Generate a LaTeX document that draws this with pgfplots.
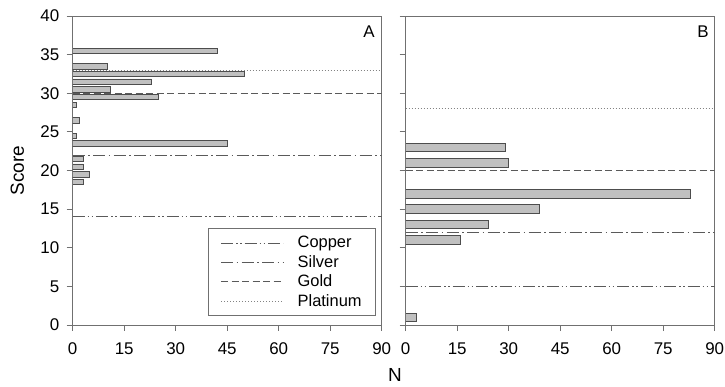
\documentclass[border=0pt]{standalone}
\usepackage{pgfplots}
\pgfplotsset{compat=1.18}
\usepackage{pgfplotstable}
\usepackage{fontspec}
\setmainfont{Liberation Sans}
\definecolor{barfill}{HTML}{C0C0C0}
\definecolor{baredge}{HTML}{4D4D4D}
\definecolor{axgray}{HTML}{707070}
\definecolor{lngray}{HTML}{5A5A5A}

\pgfplotstableread{
score n
35.5 42
33.5 10
32.5 50
31.5 23
30.5 11
29.5 25
28.5 1
26.5 2
24.5 1
23.5 45
21.5 3
20.5 3
19.5 5
18.5 3
}\dataA
\pgfplotstableread{
score n
23 29
21 30
17 83
15 39
13 24
11 16
1 3
}\dataB

\pgfplotsset{
  panel/.style={
    width=309bp, height=309bp, scale only axis,
    xmin=0, xmax=90, ymin=0, ymax=40,
    xtick={0,15,...,90}, ytick={0,5,...,40},
    tick align=outside, xtick pos=bottom, ytick pos=left,
    major tick length=6bp,
    axis line style={axgray, line width=0.8bp},
    every tick/.style={axgray, line width=0.8bp},
    tick label style={font=\fontsize{17}{20}\selectfont, text=black},
    yticklabel style={xshift=-4bp},
    xticklabel style={yshift=-8bp},
    /pgf/number format/assume math mode=true,
    label style={font=\fontsize{19}{22}\selectfont},
    legend image code/.code={\draw[##1] (0bp,0bp) -- (62bp,0bp);},
  },
  copper/.style={lngray, line width=0.9bp, dash pattern=on 12bp off 3bp on 1.5bp off 2.5bp on 1.5bp off 3bp},
  silver/.style={lngray, line width=0.9bp, dash pattern=on 12bp off 3.5bp on 1.5bp off 3.5bp},
  gold/.style={lngray, line width=0.9bp, dash pattern=on 7bp off 3.5bp},
  platinum/.style={lngray!75, line width=0.8bp, dash pattern=on 1bp off 2bp},
  bars/.style={xbar, bar shift=0pt, fill=barfill, draw=baredge, line width=0.8bp},
}

\begin{document}
\begin{tikzpicture}
\useasboundingbox (-72.7bp,-62bp) rectangle (652.3bp,325bp);
\begin{axis}[panel, at={(0,0)}, anchor=origin,
  ylabel={Score}, xlabel={N},
  ylabel style={at={(axis description cs:-0.179,0.5)}, anchor=center},
  xlabel style={at={(axis description cs:1.043,-0.1618)}, anchor=center, inner sep=0pt},
  legend style={at={(axis description cs:0.9816,0.029)}, anchor=south east,
    draw=axgray, line width=0.8bp, font=\fontsize{16.5}{18}\selectfont,
    cells={anchor=west}, inner xsep=12bp, inner ysep=6bp, row sep=2bp, column sep=12bp},
]
\addplot[bars, bar width=0.7, forget plot] table[x=n, y=score] {\dataA};
\addplot[copper] coordinates {(0,14) (90,14)};
\addplot[silver] coordinates {(0,22) (90,22)};
\addplot[gold] coordinates {(0,30) (90,30)};
\addplot[platinum] coordinates {(0,33) (90,33)};
\legend{Copper, Silver, Gold, Platinum}
\node[font=\fontsize{17}{20}\selectfont] at (axis description cs:0.959,0.948) {A};
\end{axis}
\begin{axis}[panel, at={(333bp,0)}, anchor=origin, yticklabels={}]
\addplot[bars, bar width=1.1] table[x=n, y=score] {\dataB};
\addplot[copper] coordinates {(0,5) (90,5)};
\addplot[silver] coordinates {(0,12) (90,12)};
\addplot[gold] coordinates {(0,20) (90,20)};
\addplot[platinum] coordinates {(0,28) (90,28)};
\node[font=\fontsize{17}{20}\selectfont] at (axis description cs:0.962,0.95) {B};
\end{axis}
\end{tikzpicture}
\end{document}
